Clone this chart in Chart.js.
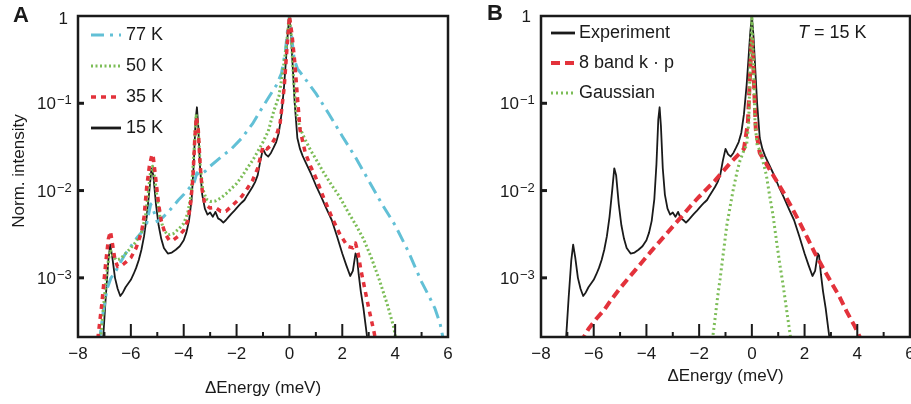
<!DOCTYPE html>
<html>
<head>
<meta charset="utf-8">
<script src="https://cdn.jsdelivr.net/npm/chart.js@4.4.0/dist/chart.umd.min.js"></script>
<style>
  body { margin: 0; width: 911px; height: 404px; overflow: hidden; background: #fff; position: relative; }
  canvas { position: absolute; top: 0; }
  #chartA { left: 0; }
  #chartB { left: 460px; }
</style>
</head>
<body>
<canvas id="chartA" width="460" height="404"></canvas>
<canvas id="chartB" width="470" height="404"></canvas>
<script>
// 15 K spectrum (panel A black, also the "Experiment" trace in panel B)
const energy15K = [-7.05, -6.95, -6.85, -6.78, -6.7, -6.6, -6.5, -6.4, -6.3, -6.2, -6.1, -6.0, -5.9, -5.8, -5.7, -5.6, -5.5, -5.4, -5.3, -5.22, -5.15, -5.05, -4.95, -4.85, -4.75, -4.6, -4.45, -4.3, -4.15, -4.0, -3.9, -3.8, -3.7, -3.62, -3.55, -3.5, -3.45, -3.38, -3.3, -3.2, -3.1, -3.0, -2.9, -2.8, -2.7, -2.6, -2.5, -2.4, -2.3, -2.2, -2.1, -2.0, -1.9, -1.8, -1.7, -1.6, -1.5, -1.4, -1.3, -1.2, -1.1, -1.0, -0.9, -0.8, -0.7, -0.6, -0.5, -0.4, -0.3, -0.2, -0.12, -0.06, 0, 0.06, 0.12, 0.2, 0.3, 0.4, 0.5, 0.6, 0.8, 1.0, 1.2, 1.4, 1.6, 1.8, 2.0, 2.15, 2.3, 2.4, 2.5, 2.55, 2.62, 2.7, 2.8, 2.9, 3.0];
const intensity15K = [2.0e-4, 6e-4, 1.6e-3, 2.4e-3, 1.7e-3, 1.0e-3, 7.5e-4, 6.2e-4, 6.8e-4, 7.8e-4, 8.6e-4, 9.5e-4, 1.1e-3, 1.3e-3, 1.6e-3, 2.1e-3, 3.0e-3, 5.0e-3, 1.0e-2, 1.8e-2, 1.5e-2, 7.0e-3, 4.0e-3, 2.8e-3, 2.2e-3, 1.9e-3, 1.95e-3, 2.1e-3, 2.3e-3, 2.7e-3, 3.3e-3, 4.5e-3, 8e-3, 2.0e-2, 6.5e-2, 9.0e-2, 5.5e-2, 1.8e-2, 9e-3, 6.2e-3, 5.3e-3, 5.6e-3, 5.0e-3, 5.7e-3, 4.8e-3, 4.6e-3, 4.3e-3, 4.6e-3, 5.0e-3, 5.4e-3, 5.8e-3, 6.3e-3, 6.8e-3, 7.3e-3, 7.8e-3, 8.8e-3, 9.8e-3, 1.1e-2, 1.25e-2, 1.5e-2, 2.2e-2, 3.0e-2, 2.6e-2, 2.45e-2, 2.7e-2, 3.1e-2, 3.6e-2, 4.6e-2, 7.5e-2, 1.6e-1, 3.5e-1, 6.5e-1, 1.0, 6.0e-1, 2.8e-1, 1.0e-1, 4.0e-2, 3.0e-2, 2.5e-2, 2.15e-2, 1.6e-2, 1.15e-2, 8.5e-3, 6.2e-3, 4.6e-3, 3.0e-3, 1.9e-3, 1.4e-3, 1.05e-3, 1.2e-3, 1.9e-3, 1.8e-3, 1.1e-3, 7e-4, 4.5e-4, 2.6e-4, 1.5e-4];

const energy35K = [-7.25, -7.1, -6.95, -6.85, -6.77, -6.7, -6.6, -6.5, -6.4, -6.2, -6.0, -5.8, -5.6, -5.5, -5.4, -5.3, -5.2, -5.15, -5.05, -4.95, -4.85, -4.7, -4.55, -4.4, -4.2, -4.0, -3.85, -3.75, -3.65, -3.58, -3.52, -3.45, -3.38, -3.3, -3.2, -3.0, -2.8, -2.6, -2.4, -2.2, -2.0, -1.8, -1.6, -1.4, -1.2, -1.0, -0.85, -0.7, -0.5, -0.35, -0.2, -0.1, 0, 0.1, 0.2, 0.3, 0.4, 0.6, 0.8, 1.0, 1.3, 1.6, 1.9, 2.2, 2.4, 2.5, 2.6, 2.7, 2.85, 3.0, 3.2, 3.35];
const intensity35K = [2e-4, 5e-4, 1.5e-3, 2.8e-3, 3.4e-3, 2.5e-3, 1.6e-3, 1.35e-3, 1.35e-3, 1.5e-3, 1.7e-3, 2.2e-3, 3.3e-3, 5e-3, 1.1e-2, 1.9e-2, 2.6e-2, 2.4e-2, 1.3e-2, 7e-3, 4.5e-3, 3.2e-3, 2.7e-3, 2.7e-3, 3.0e-3, 3.5e-3, 4.5e-3, 6.5e-3, 1.4e-2, 4e-2, 7e-2, 5e-2, 2e-2, 1e-2, 7e-3, 6.3e-3, 6.4e-3, 5.8e-3, 5.8e-3, 6.6e-3, 7.5e-3, 8.6e-3, 1.05e-2, 1.3e-2, 1.8e-2, 3.2e-2, 3.0e-2, 3.3e-2, 4.2e-2, 6e-2, 1.5e-1, 4e-1, 1.0, 6e-1, 3e-1, 1.2e-1, 5e-2, 2.7e-2, 1.9e-2, 1.4e-2, 8.2e-3, 5.0e-3, 3.2e-3, 2.3e-3, 2.2e-3, 2.5e-3, 1.9e-3, 1.25e-3, 7.5e-4, 4.5e-4, 2.4e-4, 1.4e-4];

const energy50K = [-7.15, -7.0, -6.88, -6.78, -6.68, -6.55, -6.4, -6.2, -6.0, -5.8, -5.6, -5.45, -5.35, -5.25, -5.18, -5.1, -5.0, -4.9, -4.75, -4.6, -4.4, -4.2, -4.0, -3.85, -3.72, -3.62, -3.53, -3.45, -3.38, -3.28, -3.15, -3.0, -2.8, -2.6, -2.4, -2.2, -2.0, -1.8, -1.6, -1.4, -1.2, -1.0, -0.8, -0.6, -0.4, -0.25, -0.12, 0, 0.07, 0.15, 0.25, 0.4, 0.6, 0.8, 1.0, 1.3, 1.6, 1.9, 2.2, 2.5, 2.8, 3.1, 3.4, 3.7, 3.95, 4.05];
const intensity50K = [2e-4, 6e-4, 1.4e-3, 2.1e-3, 1.8e-3, 1.6e-3, 1.65e-3, 1.9e-3, 2.2e-3, 2.6e-3, 3.3e-3, 5e-3, 9e-3, 1.7e-2, 1.9e-2, 1.4e-2, 8e-3, 5e-3, 3.5e-3, 3.1e-3, 3.2e-3, 3.6e-3, 4.2e-3, 5.5e-3, 9e-3, 2.5e-2, 7.5e-2, 5e-2, 2e-2, 1.05e-2, 8e-3, 7.5e-3, 7.6e-3, 8.2e-3, 9.2e-3, 1.05e-2, 1.2e-2, 1.45e-2, 1.8e-2, 2.2e-2, 2.8e-2, 3.6e-2, 4.8e-2, 8e-2, 1.2e-1, 2.3e-1, 4.5e-1, 1.0, 6e-1, 2e-1, 8e-2, 5.2e-2, 3.8e-2, 2.9e-2, 2.3e-2, 1.6e-2, 1.15e-2, 8.5e-3, 5.8e-3, 4.1e-3, 2.8e-3, 1.7e-3, 9.5e-4, 5e-4, 2.7e-4, 1.8e-4];

const energy77K = [-7.2, -7.05, -6.9, -6.75, -6.6, -6.4, -6.2, -6.0, -5.8, -5.6, -5.4, -5.25, -5.15, -5.0, -4.8, -4.6, -4.4, -4.2, -4.0, -3.8, -3.6, -3.5, -3.4, -3.2, -3.0, -2.6, -2.2, -1.8, -1.4, -1.1, -0.8, -0.5, -0.3, -0.15, -0.07, 0, 0.08, 0.18, 0.3, 0.6, 1.0, 1.5, 2.0, 2.5, 3.0, 3.5, 4.0, 4.5, 5.0, 5.3, 5.5, 5.7, 5.85];
const intensity77K = [1.8e-4, 4e-4, 7.5e-4, 1.0e-3, 1.15e-3, 1.5e-3, 1.9e-3, 2.3e-3, 2.8e-3, 3.3e-3, 4.2e-3, 7e-3, 6e-3, 4.4e-3, 4.9e-3, 5.6e-3, 6.6e-3, 7.8e-3, 9e-3, 1.06e-2, 1.25e-2, 1.6e-2, 1.5e-2, 1.65e-2, 1.9e-2, 2.4e-2, 3.0e-2, 4.0e-2, 5.8e-2, 8.2e-2, 1.15e-1, 1.6e-1, 2.2e-1, 4e-1, 7e-1, 1.0, 6e-1, 3.2e-1, 2.5e-1, 1.9e-1, 1.3e-1, 7.5e-2, 4.2e-2, 2.4e-2, 1.3e-2, 7e-3, 4e-3, 2e-3, 9e-4, 6e-4, 4.5e-4, 3e-4, 1.8e-4];

// panel B model curves
const energyKp = [-6.5, -6.2, -5.9, -5.6, -5.3, -5.0, -4.7, -4.4, -4.1, -3.8, -3.5, -3.2, -2.9, -2.6, -2.3, -2.0, -1.7, -1.4, -1.1, -0.8, -0.5, -0.3, -0.15, -0.06, 0, 0.06, 0.15, 0.3, 0.6, 0.9, 1.2, 1.5, 1.8, 2.1, 2.4, 2.7, 3.0, 3.3, 3.6, 3.9, 4.2];
const intensityKp = [1.8e-4, 2.6e-4, 3.4e-4, 4.3e-4, 5.8e-4, 7.6e-4, 9.8e-4, 1.25e-3, 1.6e-3, 2.05e-3, 2.6e-3, 3.3e-3, 4.2e-3, 5.3e-3, 6.8e-3, 8.5e-3, 1.05e-2, 1.3e-2, 1.65e-2, 2.1e-2, 2.6e-2, 3.0e-2, 6e-2, 2.5e-1, 5.5e-1, 2.5e-1, 5e-2, 2.7e-2, 1.9e-2, 1.35e-2, 9.5e-3, 6.5e-3, 4.4e-3, 2.9e-3, 1.9e-3, 1.3e-3, 9e-4, 6.3e-4, 4.1e-4, 2.8e-4, 1.8e-4];

const energyGauss = [-1.55, -1.45, -1.3, -1.2, -1.05, -0.95, -0.8, -0.7, -0.55, -0.45, -0.3, -0.2, -0.12, -0.06, 0, 0.06, 0.12, 0.2, 0.3, 0.45, 0.55, 0.68, 0.8, 0.93, 1.05, 1.18, 1.3, 1.43, 1.55];
const intensityGauss = [1.5e-4, 2.5e-4, 6e-4, 1.0e-3, 2.3e-3, 4e-3, 7.2e-3, 1.05e-2, 1.7e-2, 2.2e-2, 2.9e-2, 3.3e-2, 6e-2, 3e-1, 1.0, 3e-1, 6e-2, 3.3e-2, 2.9e-2, 2.0e-2, 1.5e-2, 8.5e-3, 5.3e-3, 2.7e-3, 1.5e-3, 8.5e-4, 4.7e-4, 2.5e-4, 1.4e-4];

const xTickValues = [-8, -6, -4, -2, 0, 2, 4, 6];
const xTickLabels = ['\u22128', '\u22126', '\u22124', '\u22122', '0', '2', '4', '6'];
const yTickValues = [1, 0.1, 0.01, 0.001];
const yTickExponents = ['', '\u22121', '\u22122', '\u22123'];

const FONT = '"Liberation Sans", Arial, sans-serif';
const INK = '#1a1a1a';
const BLUE = '#62c0d6';
const GREEN = '#7cbd57';
const RED = '#e3323b';

const pts = (xs, ys) => xs.map((x, i) => ({ x: x, y: ys[i] }));

const panelPlugin = {
  id: 'panel',
  afterDatasetsDraw(chart, args, o) {
    const ctx = chart.ctx;
    const a = chart.chartArea;
    const xs = chart.scales.x;
    const ys = chart.scales.y;
    const line = (x1, y1, x2, y2) => {
      ctx.beginPath(); ctx.moveTo(x1, y1); ctx.lineTo(x2, y2); ctx.stroke();
    };
    ctx.save();
    ctx.strokeStyle = INK;
    ctx.fillStyle = INK;
    ctx.setLineDash([]);

    // frame
    ctx.lineWidth = 2.5;
    ctx.strokeRect(a.left, a.top, a.right - a.left, a.bottom - a.top);

    // inward ticks
    ctx.lineWidth = 2;
    for (let v = -7; v <= 5; v++) {
      const x = xs.getPixelForValue(v);
      line(x, a.bottom, x, a.bottom - (v % 2 === 0 ? 13 : 5));
    }
    ctx.lineWidth = 3;
    yTickValues.slice(1).forEach(v => {
      const y = ys.getPixelForValue(v);
      line(a.left, y, a.left + 6, y);
    });

    // x tick labels
    ctx.font = '17px ' + FONT;
    ctx.textAlign = 'center';
    ctx.textBaseline = 'middle';
    xTickValues.forEach((v, i) => {
      ctx.fillText(xTickLabels[i], xs.getPixelForValue(v), a.bottom + 17);
    });

    // y tick labels
    yTickValues.forEach((v, i) => {
      const y = ys.getPixelForValue(v);
      ctx.textBaseline = 'middle';
      ctx.font = '17px ' + FONT;
      ctx.textAlign = 'right';
      if (i === 0) {
        ctx.fillText('1', a.left - 10, y + o.oneDy);
      } else {
        ctx.textBaseline = 'alphabetic';
        ctx.fillText('10', a.left - 22, y + 6);
        ctx.font = '13px ' + FONT;
        ctx.textAlign = 'left';
        ctx.fillText(yTickExponents[i], a.left - 21, y + 1);
      }
    });

    // axis titles
    ctx.font = '17px ' + FONT;
    ctx.textAlign = 'center';
    ctx.textBaseline = 'middle';
    ctx.fillText('\u0394Energy (meV)', (a.left + a.right) / 2, o.xTitleY);
    if (o.yTitle) {
      ctx.save();
      ctx.translate(19, 171);
      ctx.rotate(-Math.PI / 2);
      ctx.fillText(o.yTitle, 0, 0);
      ctx.restore();
    }

    // panel letter
    ctx.font = 'bold 22px ' + FONT;
    ctx.textAlign = 'left';
    ctx.fillText(o.letter, o.letterX, o.letterY);

    // legend
    ctx.font = '18px ' + FONT;
    o.legend.forEach((label, i) => {
      const ds = chart.data.datasets.find(d => d.label === label);
      const y = o.legendTop + i * o.legendStep;
      ctx.save();
      ctx.strokeStyle = ds.borderColor;
      ctx.lineWidth = Math.max(ds.borderWidth, 2.8);
      ctx.setLineDash(ds.borderDash || []);
      line(o.sampleX1, y, o.sampleX2, y);
      ctx.restore();
      ctx.fillText(label, o.legendTextX, y);
    });

    if (o.note) {
      ctx.font = 'italic 18px ' + FONT;
      ctx.fillText('T', o.note.x, o.note.y);
      const w = ctx.measureText('T').width;
      ctx.font = '18px ' + FONT;
      ctx.fillText(' = 15 K', o.note.x + w, o.note.y);
    }
    ctx.restore();
  }
};

const makeChart = (id, datasets, padding, panel) => new Chart(document.getElementById(id), {
  type: 'line',
  data: { datasets: datasets },
  options: {
    responsive: false,
    animation: false,
    devicePixelRatio: 1,
    layout: { padding: padding },
    scales: {
      x: { type: 'linear', min: -8, max: 6, display: false },
      y: { type: 'logarithmic', min: 2.1e-4, max: 1, display: false }
    },
    elements: { point: { radius: 0 }, line: { tension: 0, borderCapStyle: 'butt', borderJoinStyle: 'round' } },
    plugins: { legend: { display: false }, tooltip: { enabled: false }, panel: panel }
  },
  plugins: [panelPlugin]
});

// dataset 0 is drawn on top
makeChart('chartA', [
  { label: '35 K', data: pts(energy35K, intensity35K), borderColor: RED, borderWidth: 3.5, borderDash: [5, 5] },
  { label: '50 K', data: pts(energy50K, intensity50K), borderColor: GREEN, borderWidth: 3, borderDash: [2, 2.5] },
  { label: '77 K', data: pts(energy77K, intensity77K), borderColor: BLUE, borderWidth: 3, borderDash: [13, 6, 3, 6] },
  { label: '15 K', data: pts(energy15K, intensity15K), borderColor: INK, borderWidth: 1.8 }
], { left: 78, right: 12, top: 16, bottom: 67 }, {
  letter: 'A', letterX: 13, letterY: 16, oneDy: 3, xTitleY: 388, yTitle: 'Norm. intensity',
  legend: ['77 K', '50 K', '35 K', '15 K'], legendTop: 35, legendStep: 31,
  sampleX1: 91, sampleX2: 121, legendTextX: 126
});

makeChart('chartB', [
  { label: 'Gaussian', data: pts(energyGauss, intensityGauss), borderColor: GREEN, borderWidth: 3, borderDash: [2, 3] },
  { label: '8 band k \u00b7 p', data: pts(energyKp, intensityKp), borderColor: RED, borderWidth: 4, borderDash: [9, 5] },
  { label: 'Experiment', data: pts(energy15K, intensity15K), borderColor: INK, borderWidth: 1.8 }
], { left: 81, right: 20, top: 16, bottom: 67 }, {
  letter: 'B', letterX: 27, letterY: 14, oneDy: 1, xTitleY: 376, yTitle: null,
  legend: ['Experiment', '8 band k \u00b7 p', 'Gaussian'], legendTop: 33, legendStep: 30,
  sampleX1: 91, sampleX2: 115, legendTextX: 119,
  note: { x: 338, y: 33 }
});
</script>
</body>
</html>
